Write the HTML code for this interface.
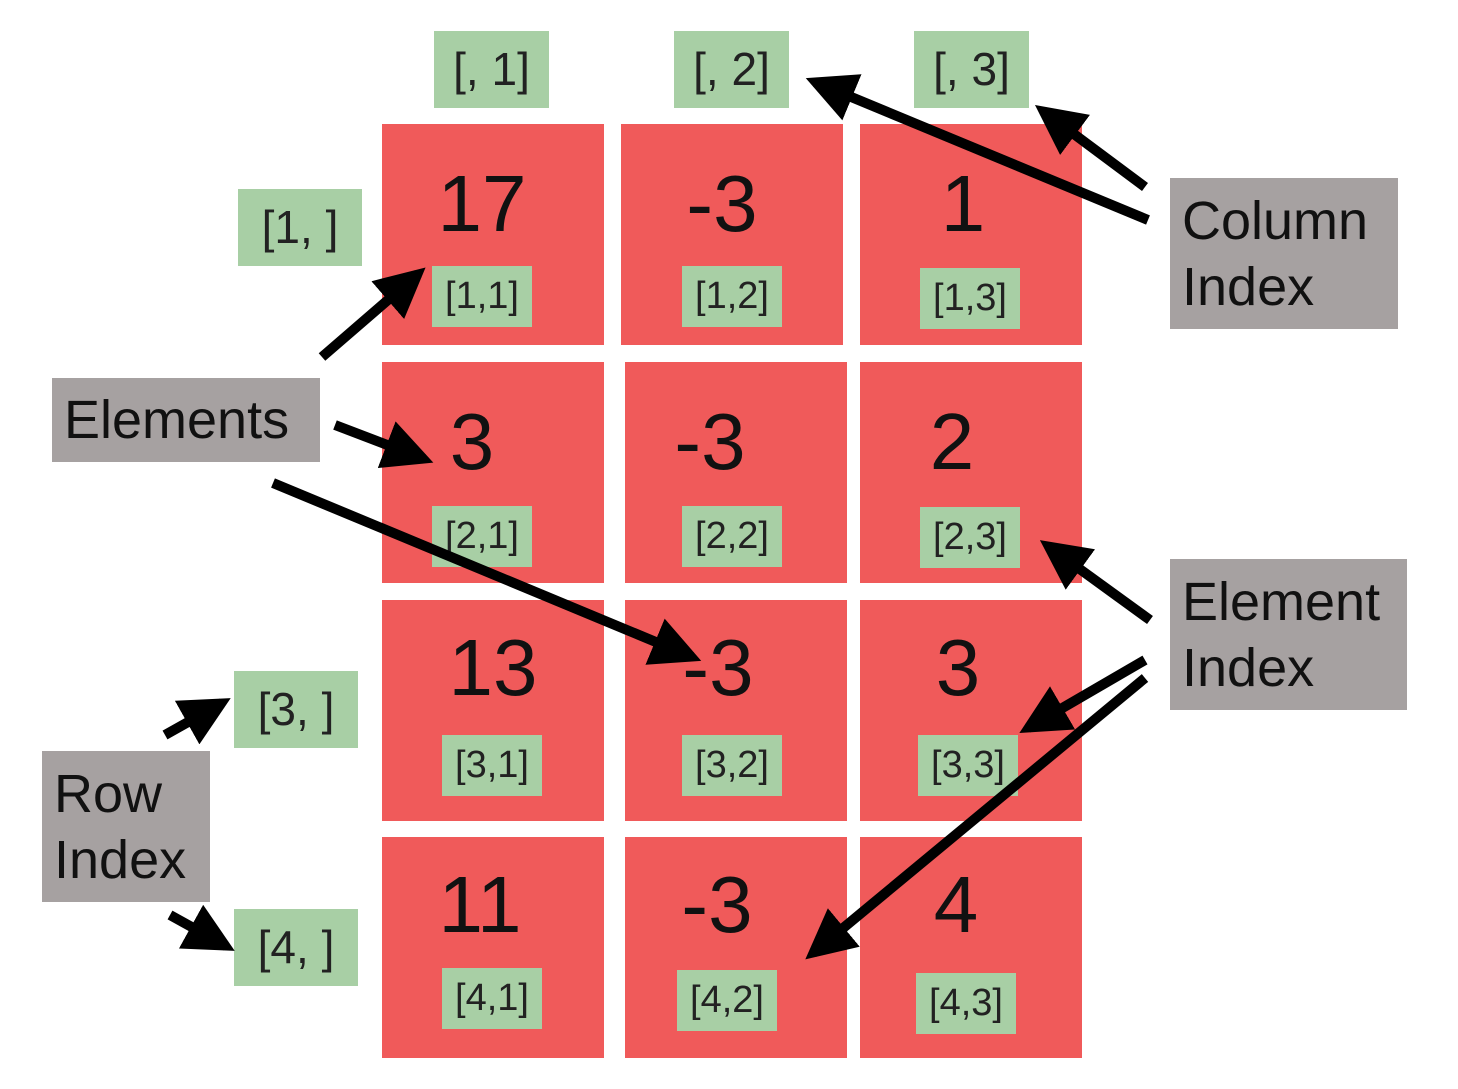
<!DOCTYPE html>
<html><head><meta charset="utf-8">
<style>
html,body{margin:0;padding:0;background:#fff;}
body{width:1458px;height:1089px;position:relative;overflow:hidden;font-family:"Liberation Sans","DejaVu Sans",sans-serif;}
.cell{position:absolute;background:#f05a5a;}
.num{position:absolute;width:200px;text-align:center;font-size:80px;color:#111;top:40px;line-height:80px;}
.lab{position:absolute;background:#a8cfa5;color:#222;font-size:40px;text-align:center;}
.gray{position:absolute;background:#a6a1a1;color:#111;font-size:54px;line-height:66px;padding-left:12px;box-sizing:border-box;}
svg{position:absolute;left:0;top:0;}
</style></head><body>
<div id="root"></div>
<div class="gray" style="left:1170px;top:178px;width:228px;height:151px;padding-top:10px;">Column<br>Index</div>
<div class="gray" style="left:52px;top:378px;width:268px;height:84px;padding-top:9px;">Elements</div>
<div class="gray" style="left:1170px;top:559px;width:237px;height:151px;padding-top:10px;">Element<br>Index</div>
<div class="gray" style="left:42px;top:751px;width:168px;height:151px;padding-top:10px;">Row<br>Index</div>
<svg width="1458" height="1089">
<defs><marker id="ah" markerWidth="5" markerHeight="5" refX="4" refY="2.5" orient="auto" markerUnits="strokeWidth"><path d="M0,0 L5,2.5 L0,5 z" fill="#000"/></marker></defs>
<g id="arrows" stroke="#000" stroke-width="10" fill="none"></g>
</svg>
<script>
const values=[[17,-3,1],[3,-3,2],[13,-3,3],[11,-3,4]];
const colLeft=[382,621,860];
const rowTop=[124,362,600,837];
const cellSize=222;
const numTop=[40,40,28,28];
const numCx=[[482,722,963],[472,710,952],[493,718,958],[480,717,956]];
const tagX=[[432,682,920],[432,682,920],[442,682,918],[442,677,916]];
const tagY=[[266,266,268],[506,506,507],[735,735,735],[968,970,973]];
const root=document.getElementById('root');
function lab(x,y,w,h,t,name,fs){
  const d=document.createElement('div');
  d.className='lab';
  
  
  d.style.cssText=`left:${x}px;top:${y}px;width:${w}px;height:${h}px;line-height:${h}px;font-size:${fs}px`;
  d.textContent=t;root.appendChild(d);
}
values.forEach((row,i)=>row.forEach((v,j)=>{
  const c=document.createElement('div');
  c.className='cell';
  
  
  const x=colLeft[j]+(j===1&&i>0?4:0);
  c.style.cssText=`left:${x}px;top:${rowTop[i]}px;width:${cellSize}px;height:${cellSize-1}px`;
  const n=document.createElement('div');n.className='num';n.textContent=v;
  
  
  n.style.left=(numCx[i][j]-x-100)+'px';
  n.style.top=numTop[i]+'px';
  c.appendChild(n);root.appendChild(c);
  lab(tagX[i][j],tagY[i][j],100,61,'['+(i+1)+','+(j+1)+']','element-index-tag',38);
}));
[1,2,3].forEach((k,j)=>lab(434+240*j,31,115,77,'[, '+k+']','column-index-tag',46));
lab(238,189,124,77,'[1, ]','row-index-tag',46);
lab(234,671,124,77,'[3, ]','row-index-tag',46);
lab(234,909,124,77,'[4, ]','row-index-tag',46);
const arrows=[[1148,220,815,82],[1145,187,1043,111],[322,357,418,274],[335,425,424,459],[273,483,692,657],[1150,620,1048,546],[1145,660,1028,728],[1145,678,813,953],[165,735,222,703],[170,915,226,946]];
const g=document.getElementById('arrows');
arrows.forEach(a=>{
  const l=document.createElementNS('http://www.w3.org/2000/svg','line');
  
  
  l.setAttribute('x1',a[0]);l.setAttribute('y1',a[1]);l.setAttribute('x2',a[2]);l.setAttribute('y2',a[3]);
  l.setAttribute('marker-end','url(#ah)');g.appendChild(l);
});
</script>
</body></html>
